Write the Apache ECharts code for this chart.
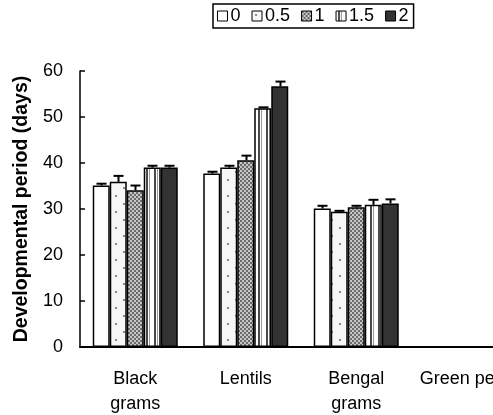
<!DOCTYPE html>
<html>
<head>
<meta charset="utf-8">
<script src="https://cdn.jsdelivr.net/npm/echarts@6/dist/echarts.min.js"></script>
<style>
  html, body { margin: 0; padding: 0; background: #fff; }
  #main { width: 493px; height: 415px; }
</style>
</head>
<body>
<div id="main"></div>
<script>
// data
const categories = ['Black\ngrams', 'Lentils', 'Bengal\ngrams', 'Green peas'];
const doseNames = ['0', '0.5', '1', '1.5', '2'];
const dose0  = [35.1, 37.7, 30.1, null];
const dose05 = [35.9, 39.0, 29.4, null];
const dose1  = [34.1, 40.6, 30.4, null];
const dose15 = [39.0, 51.9, 30.9, null];
const dose2  = [39.0, 56.7, 31.2, null];
const err0  = [0.4, 0.4, 0.6, null];
const err05 = [1.3, 0.4, 0.2, null];
const err1  = [1.0, 1.0, 0.3, null];
const err15 = [0.4, 0.2, 1.1, null];
const err2  = [0.4, 1.0, 0.9, null];
const yTicks = { min: 0, max: 60, interval: 10 };

const FONT = 'Liberation Sans, Arial, sans-serif';
const BAR_W = 17;

// fill patterns (like the excel ones)
function tile(w, h, draw) {
    const c = document.createElement('canvas');
    c.width = w; c.height = h;
    draw(c.getContext('2d'));
    return { image: c, repeat: 'repeat' };
}
const fills = [
    '#ffffff',
    tile(16, 16, ctx => {   // dots
        ctx.fillStyle = '#f6f6f6'; ctx.fillRect(0, 0, 16, 16);
        ctx.fillStyle = '#8a8a8a';
        ctx.fillRect(3, 3, 2, 2);
        ctx.fillRect(11, 11, 2, 2);
    }),
    tile(4, 4, ctx => {     // fine checker
        ctx.fillStyle = '#c6c6c6'; ctx.fillRect(0, 0, 4, 4);
        ctx.fillStyle = '#6c6c6c';
        ctx.fillRect(0, 0, 2, 2);
        ctx.fillRect(2, 2, 2, 2);
    }),
    tile(8, 1, ctx => {     // vertical stripes
        ctx.fillStyle = '#ffffff'; ctx.fillRect(0, 0, 8, 1);
        ctx.fillStyle = '#4a4a4a'; ctx.fillRect(2, 0, 2, 1);
        ctx.fillStyle = '#9a9a9a'; ctx.fillRect(5, 0, 1, 1);
    }),
    '#333333'
];

const values = [dose0, dose05, dose1, dose15, dose2];
const errors = [err0, err05, err1, err15, err2];

const Chart = echarts.init(document.getElementById('main'), null, { renderer: 'canvas' });

const barSeries = doseNames.map((name, i) => ({
    name: name,
    type: 'bar',
    data: values[i],
    barWidth: BAR_W,
    barGap: '0%',
    itemStyle: { color: fills[i], borderColor: '#000', borderWidth: 1.5 },
    emphasis: { disabled: true }
}));

// error bars (upper half only, the bar hides the rest)
const errSeries = doseNames.map((name, i) => ({
    type: 'custom',
    silent: true,
    z: 5,
    data: values[i].map((v, c) => v == null ? null : [c, v, errors[i][c]]).filter(d => d),
    renderItem: function (params, api) {
        const base = api.coord([api.value(0), api.value(1)]);
        const top = api.coord([api.value(0), api.value(1) + api.value(2)]);
        const x = Math.round(base[0] + (i - 2) * BAR_W) + 0.5;
        const style = { stroke: '#000', lineWidth: 2 };
        return {
            type: 'group',
            children: [
                { type: 'line', shape: { x1: x, y1: base[1], x2: x, y2: top[1] }, style: style },
                { type: 'line', shape: { x1: x - 5, y1: top[1], x2: x + 5, y2: top[1] }, style: style }
            ]
        };
    }
}));

var option = {
    animation: false,
    textStyle: { fontFamily: FONT, color: '#000' },
    legend: {
        data: doseNames,
        left: 213,
        top: 4,
        padding: [3, 5, 3, 4],
        itemGap: 11,
        itemWidth: 10,
        itemHeight: 10,
        icon: 'rect',
        borderColor: '#000',
        borderWidth: 1.5,
        itemStyle: { borderColor: '#000', borderWidth: 1 },
        textStyle: { fontFamily: FONT, fontSize: 18, color: '#000', padding: [0, 0, 0, -2] }
    },
    // the last category runs off the right edge, like the original
    grid: { left: 80, top: 71, width: 442, height: 276, outerBoundsMode: 'none' },
    xAxis: {
        type: 'category',
        data: categories,
        axisLine: { lineStyle: { color: '#000', width: 2 } },
        axisTick: { inside: true, length: 9, interval: 0, lineStyle: { color: '#000', width: 1.5 } },
        axisLabel: { interval: 0, fontFamily: FONT, fontSize: 18, lineHeight: 25, margin: 20, color: '#000' }
    },
    yAxis: {
        type: 'value',
        min: yTicks.min,
        max: yTicks.max,
        interval: yTicks.interval,
        name: 'Developmental period (days)',
        nameLocation: 'middle',
        nameGap: 47,
        nameTextStyle: { fontFamily: FONT, fontSize: 19.5, fontWeight: 'bold', color: '#000' },
        splitLine: { show: false },
        axisLine: { show: true, lineStyle: { color: '#000', width: 1.5 } },
        axisTick: { show: true, inside: true, length: 5, lineStyle: { color: '#000', width: 1.5 } },
        axisLabel: { fontFamily: FONT, fontSize: 18, margin: 17, color: '#000' }
    },
    series: barSeries.concat(errSeries)
};

Chart.setOption(option, true);
</script>
</body>
</html>
